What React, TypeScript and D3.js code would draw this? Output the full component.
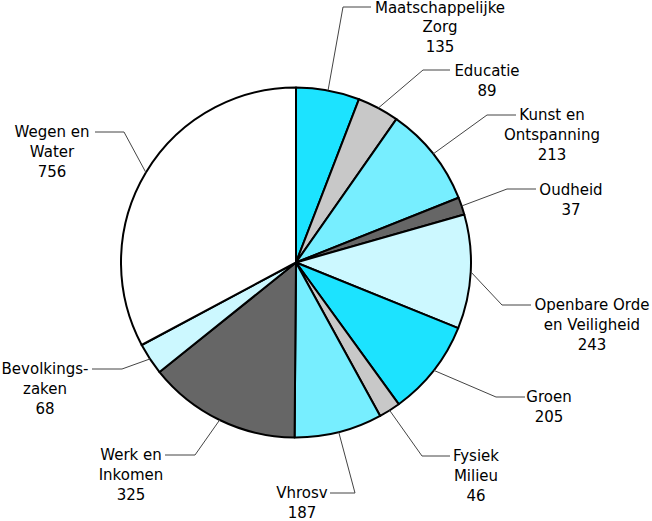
import React from "react";
import * as d3 from "d3";

const categories = [
  "Maatschappelijke Zorg",
  "Educatie",
  "Kunst en Ontspanning",
  "Oudheid",
  "Openbare Orde en Veiligheid",
  "Groen",
  "Fysiek Milieu",
  "Vhrosv",
  "Werk en Inkomen",
  "Bevolkingszaken",
  "Wegen en Water",
];
const values = [135, 89, 213, 37, 243, 205, 46, 187, 325, 68, 756];
const labelLines = [
  ["Maatschappelijke", "Zorg"],
  ["Educatie"],
  ["Kunst en", "Ontspanning"],
  ["Oudheid"],
  ["Openbare Orde", "en Veiligheid"],
  ["Groen"],
  ["Fysiek", "Milieu"],
  ["Vhrosv"],
  ["Werk en", "Inkomen"],
  ["Bevolkings-", "zaken"],
  ["Wegen en", "Water"],
];
const colors = [
  "#1ce3ff",
  "#c8c8c8",
  "#77eeff",
  "#666666",
  "#ccf8ff",
  "#1ce3ff",
  "#c8c8c8",
  "#77eeff",
  "#666666",
  "#ccf8ff",
  "#ffffff",
];

// label layout: elbow point, end of horizontal leader, text centre x, first baseline
const labelLayout = [
  { ex: 343, ey: 7, hx: 371, tx: 440, by: 12.5, ls: 19.5 },
  { ex: 423, ey: 70, hx: 450, tx: 487, by: 76, ls: 20 },
  { ex: 487, ey: 115, hx: 516, tx: 552, by: 120, ls: 20 },
  { ex: 507, ey: 189, hx: 536, tx: 571, by: 195, ls: 20 },
  { ex: 502, ey: 305, hx: 531, tx: 592, by: 310, ls: 20 },
  { ex: 496, ey: 397, hx: 525, tx: 549, by: 402, ls: 20 },
  { ex: 422, ey: 456, hx: 450, tx: 476, by: 461, ls: 20 },
  { ex: 355, ey: 493, hx: 330, tx: 302, by: 498, ls: 19.5 },
  { ex: 195, ey: 455, hx: 165, tx: 131, by: 460, ls: 20 },
  { ex: 122, ey: 369, hx: 92, tx: 45, by: 374, ls: 20 },
  { ex: 124, ey: 132, hx: 95, tx: 52, by: 137, ls: 20 },
];

const W = 652;
const H = 521;
const cx = 296;
const cy = 262.5;
const R = 175;

export default function App() {
  const data = categories.map((c, i) => ({ name: c, value: values[i], i }));
  const pie = d3
    .pie<any>()
    .sort(null)
    .value((d: any) => d.value);
  const arcs = pie(data);
  const arc = d3.arc<any>().innerRadius(0).outerRadius(R);

  return (
    <svg
      width={W}
      height={H}
      style={{ position: "absolute", left: 0, top: 0, background: "#fff" }}
      fontFamily="DejaVu Sans"
      fontSize={15}
    >
      <g transform={`translate(${cx},${cy})`}>
        {arcs.map((a, k) => (
          <path
            key={k}
            d={arc(a) || ""}
            fill={colors[k]}
            stroke="#000"
            strokeWidth={2}
            strokeLinejoin="round"
          />
        ))}
      </g>
      {arcs.map((a, k) => {
        const mid = (a.startAngle + a.endAngle) / 2;
        const sx = cx + R * Math.sin(mid);
        const sy = cy - R * Math.cos(mid);
        const L = labelLayout[k];
        const lines = [...labelLines[k], String(values[k])];
        return (
          <g key={"l" + k}>
            <polyline
              points={`${sx},${sy} ${L.ex},${L.ey} ${L.hx},${L.ey}`}
              fill="none"
              stroke="#444"
              strokeWidth={1}
            />
            {lines.map((t, j) => (
              <text
                key={j}
                x={L.tx}
                y={L.by + j * L.ls}
                textAnchor="middle"
                fill="#000"
              >
                {t}
              </text>
            ))}
          </g>
        );
      })}
    </svg>
  );
}
